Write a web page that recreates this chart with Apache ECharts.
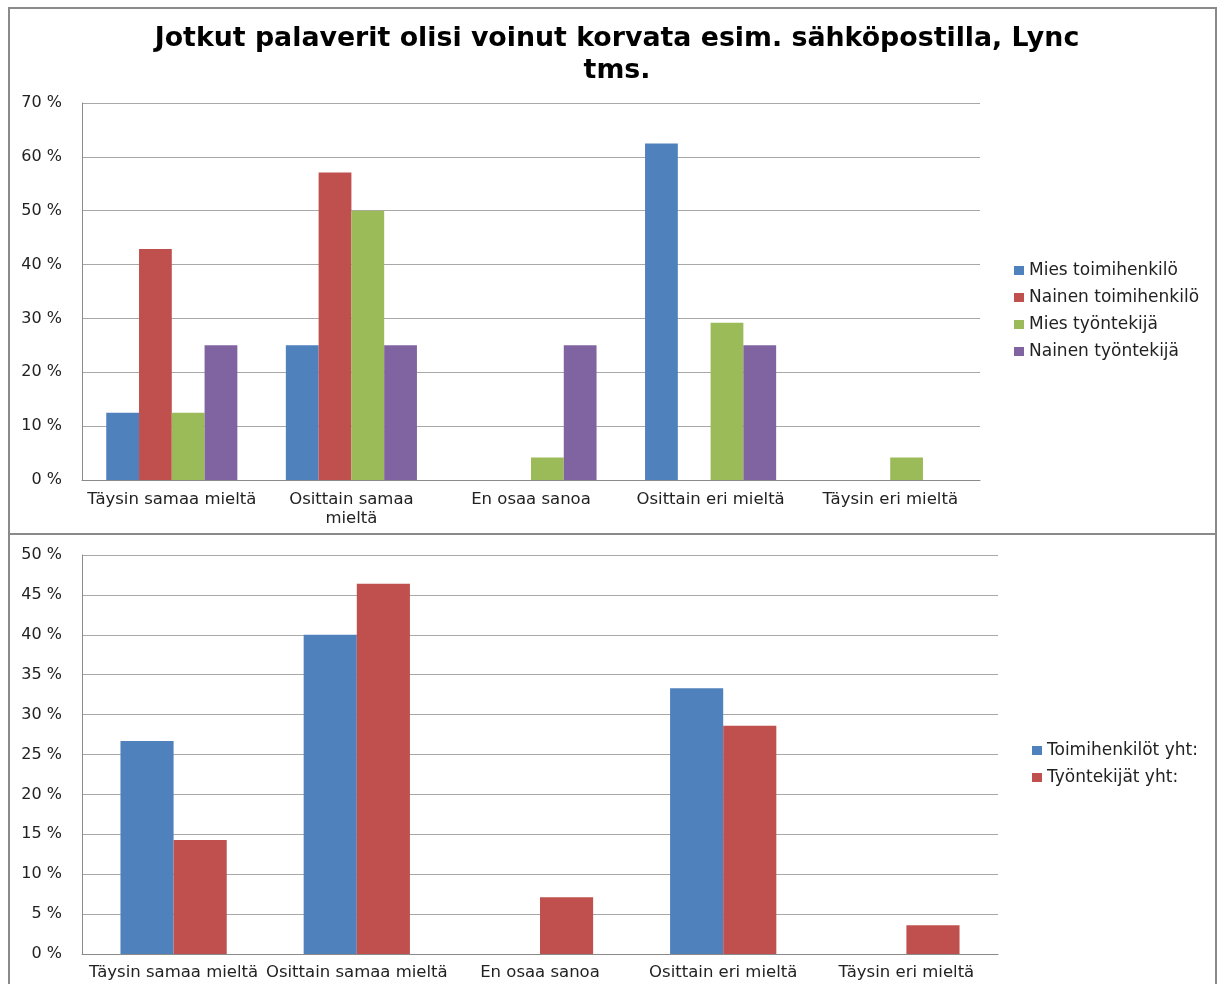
<!DOCTYPE html>
<html><head><meta charset="utf-8">
<script src="https://cdn.jsdelivr.net/npm/echarts@6/dist/echarts.min.js"></script>
<style>html,body{margin:0;padding:0;background:#fff}#c{width:1224px;height:984px}</style>
</head><body><div id="c"></div>
<script>
const titleText = 'Jotkut palaverit olisi voinut korvata esim. sähköpostilla, Lync\ntms.';
const categories = ['Täysin samaa mieltä', 'Osittain samaa mieltä', 'En osaa sanoa', 'Osittain eri mieltä', 'Täysin eri mieltä'];
const topNames = ['Mies toimihenkilö', 'Nainen toimihenkilö', 'Mies työntekijä', 'Nainen työntekijä'];
const miesToimihenkilo = [12.5, 25, 0, 62.5, 0];
const nainenToimihenkilo = [42.9, 57.1, 0, 0, 0];
const miesTyontekija = [12.5, 50, 4.2, 29.2, 4.2];
const nainenTyontekija = [25, 25, 25, 25, 0];
const bottomNames = ['Toimihenkilöt yht:', 'Työntekijät yht:'];
const toimihenkilotYht = [26.7, 40, 0, 33.3, 0];
const tyontekijatYht = [14.3, 46.4, 7.1, 28.6, 3.6];
const colors = ['#4F81BD', '#C0504D', '#9BBB59', '#8064A2'];
const font = 'DejaVu Sans';

const chart = echarts.init(document.getElementById('c'));
const axisLabelY = {fontFamily: font, fontSize: 16, color: '#222', margin: 20, formatter: v => v + ' %'};
const topSeries = [miesToimihenkilo, nainenToimihenkilo, miesTyontekija, nainenTyontekija];
const botSeries = [toimihenkilotYht, tyontekijatYht];
chart.setOption({
  animation: false,
  title: {text: titleText, left: 612, textAlign: 'center', top: 18,
    textStyle: {fontFamily: font, fontWeight: 'bold', fontSize: 26.8, color: '#000', lineHeight: 32}},
  graphic: [
    {type: 'rect', shape: {x: 9, y: 8, width: 1207, height: 1000}, style: {fill: null, stroke: '#8a8a8a', lineWidth: 2}},
    {type: 'line', shape: {x1: 9, y1: 534, x2: 1216, y2: 534}, style: {stroke: '#8a8a8a', lineWidth: 2}}
  ],
  legend: [
    {data: topNames, orient: 'vertical', left: 1009, top: 257, itemWidth: 10, itemHeight: 9, itemGap: 10, icon: 'rect',
      textStyle: {fontFamily: font, fontSize: 17, color: '#222'}},
    {data: bottomNames, orient: 'vertical', left: 1027, top: 737, itemWidth: 10, itemHeight: 9, itemGap: 10, icon: 'rect',
      textStyle: {fontFamily: font, fontSize: 17, color: '#222'}}
  ],
  grid: [
    {left: 82, top: 103, width: 898, height: 377},
    {left: 82, top: 555, width: 916, height: 399}
  ],
  xAxis: [
    {type: 'category', gridIndex: 0, data: categories, axisTick: {show: false},
      axisLine: {lineStyle: {color: '#8a8a8a'}},
      axisLabel: {fontFamily: font, fontSize: 16.5, color: '#222', margin: 10, interval: 0, lineHeight: 19,
        formatter: v => v.length > 20 ? v.replace(/ (\S+)$/, '\n$1') : v}},
    {type: 'category', gridIndex: 1, data: categories, axisTick: {show: false},
      axisLine: {lineStyle: {color: '#8a8a8a'}},
      axisLabel: {fontFamily: font, fontSize: 16.5, color: '#222', margin: 10, interval: 0}}
  ],
  yAxis: [
    {type: 'value', gridIndex: 0, min: 0, max: 70, interval: 10, axisLine: {show: true, lineStyle: {color: '#8a8a8a'}},
      splitLine: {lineStyle: {color: '#a8a8a8'}}, axisLabel: axisLabelY},
    {type: 'value', gridIndex: 1, min: 0, max: 50, interval: 5, axisLine: {show: true, lineStyle: {color: '#8a8a8a'}},
      splitLine: {lineStyle: {color: '#a8a8a8'}}, axisLabel: axisLabelY}
  ],
  series: [
    ...topSeries.map((d, i) => ({name: topNames[i], type: 'bar', xAxisIndex: 0, yAxisIndex: 0, data: d,
      itemStyle: {color: colors[i]}, barGap: '0%', barCategoryGap: '27%'})),
    ...botSeries.map((d, i) => ({name: bottomNames[i], type: 'bar', xAxisIndex: 1, yAxisIndex: 1, data: d,
      itemStyle: {color: colors[i]}, barGap: '0%', barCategoryGap: '42%'}))
  ]
});
</script></body></html>
